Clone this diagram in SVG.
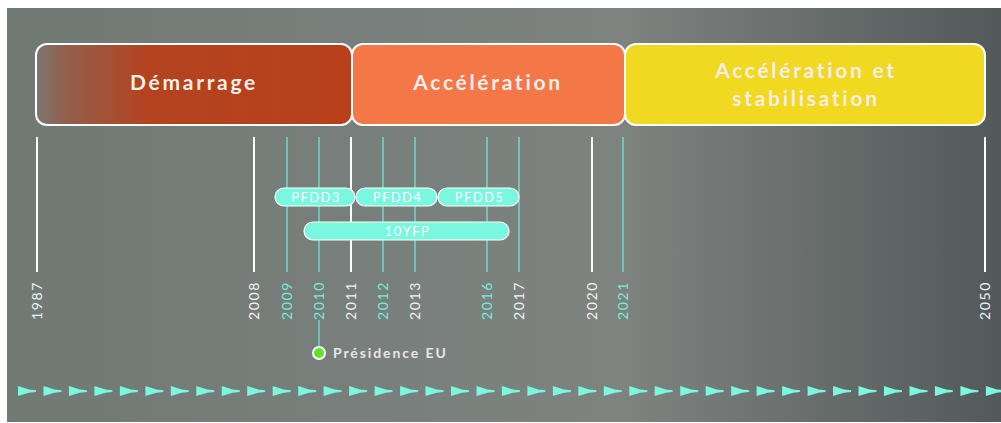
<svg xmlns="http://www.w3.org/2000/svg" width="1001" height="423" viewBox="0 0 1001 423">
  <style>
    .phase-title { font-family: Lato, "Open Sans", sans-serif; font-size: 21px; font-weight: bold; fill: #f6eee9; letter-spacing: 2.7px; text-anchor: middle; }
    .phase-box { stroke: #ffffff; stroke-width: 2; }
    .tick-w { stroke: #ffffff; stroke-width: 2; }
    .tick-t { stroke: #6fe8cf; stroke-width: 1.3; }
    .year { font-family: Lato, "Open Sans", sans-serif; font-size: 14px; letter-spacing: 1.6px; text-anchor: end; }
    .year-w { fill: #f2f2f2; }
    .year-t { fill: #6ff0d6; }
    .pill { fill: #7af7df; stroke: #ffffff; stroke-width: 1.2; }
    .pill-label { font-family: Lato, "Open Sans", sans-serif; font-size: 13px; fill: #ffffff; letter-spacing: 1.4px; text-anchor: middle; }
    .arrow { fill: #7af7df; }
  </style>
  <defs>
    <linearGradient id="bg" x1="0" y1="0" x2="1" y2="0">
      <stop offset="0" stop-color="#717975"/>
      <stop offset="0.62" stop-color="#7e8380"/>
      <stop offset="1" stop-color="#535959"/>
    </linearGradient>
    <linearGradient id="demarrage" x1="36" y1="0" x2="352" y2="0" gradientUnits="userSpaceOnUse">
      <stop offset="0" stop-color="#7b7672"/>
      <stop offset="0.1" stop-color="#935f4b"/>
      <stop offset="0.35" stop-color="#b3431f"/>
      <stop offset="1" stop-color="#b8401b"/>
    </linearGradient>
    <polygon id="pennant" points="0,-5 11,-1.6 18,-0.8 18,0.9 11,1.8 0,5"/>
  </defs>

  <rect x="0" y="0" width="1001" height="423" fill="#ffffff"/>
  <rect x="7" y="8" width="994" height="414" fill="url(#bg)"/>

  <!-- phases -->
  <g id="phase-demarrage">
    <rect class="phase-box" x="36" y="44" width="316" height="81" rx="11" fill="url(#demarrage)"/>
    <text class="phase-title" x="194" y="90">Démarrage</text>
  </g>
  <g id="phase-acceleration">
    <rect class="phase-box" x="352" y="44" width="273" height="81" rx="11" fill="#f47747"/>
    <text class="phase-title" x="488" y="90">Accélération</text>
  </g>
  <g id="phase-stabilisation">
    <rect class="phase-box" x="625" y="44" width="360" height="81" rx="11" fill="#f1d821"/>
    <text class="phase-title" x="806" y="78">Accélération et</text>
    <text class="phase-title" x="806" y="106">stabilisation</text>
  </g>

  <!-- year ticks -->
  <g id="ticks">
    <line class="tick-w" x1="37" y1="137" x2="37" y2="272"/>
    <line class="tick-w" x1="254" y1="137" x2="254" y2="272"/>
    <line class="tick-t" x1="287" y1="137" x2="287" y2="272"/>
    <line class="tick-t" x1="319" y1="137" x2="319" y2="272"/>
    <line class="tick-w" x1="351" y1="137" x2="351" y2="272"/>
    <line class="tick-t" x1="383" y1="137" x2="383" y2="272"/>
    <line class="tick-t" x1="415" y1="137" x2="415" y2="272"/>
    <line class="tick-t" x1="487" y1="137" x2="487" y2="272"/>
    <line class="tick-t" x1="519" y1="137" x2="519" y2="272"/>
    <line class="tick-w" x1="592" y1="137" x2="592" y2="272"/>
    <line class="tick-t" x1="623" y1="137" x2="623" y2="272"/>
    <line class="tick-w" x1="985" y1="137" x2="985" y2="272"/>
  </g>

  <!-- year labels -->
  <g id="years">
    <text class="year year-w" transform="translate(42,281) rotate(-90)">1987</text>
    <text class="year year-w" transform="translate(259,281) rotate(-90)">2008</text>
    <text class="year year-t" transform="translate(292,281) rotate(-90)">2009</text>
    <text class="year year-t" transform="translate(324,281) rotate(-90)">2010</text>
    <text class="year year-w" transform="translate(356,281) rotate(-90)">2011</text>
    <text class="year year-t" transform="translate(388,281) rotate(-90)">2012</text>
    <text class="year year-w" transform="translate(420,281) rotate(-90)">2013</text>
    <text class="year year-t" transform="translate(492,281) rotate(-90)">2016</text>
    <text class="year year-w" transform="translate(524,281) rotate(-90)">2017</text>
    <text class="year year-w" transform="translate(597,281) rotate(-90)">2020</text>
    <text class="year year-t" transform="translate(628,281) rotate(-90)">2021</text>
    <text class="year year-w" transform="translate(990,281) rotate(-90)">2050</text>
  </g>

  <!-- programmes -->
  <g id="pfdd3">
    <rect class="pill" x="275" y="188" width="80" height="18" rx="9"/>
    <text class="pill-label" x="316" y="202">PFDD3</text>
  </g>
  <g id="pfdd4">
    <rect class="pill" x="356" y="188" width="81" height="18" rx="9"/>
    <text class="pill-label" x="397.5" y="202">PFDD4</text>
  </g>
  <g id="pfdd5">
    <rect class="pill" x="438" y="188" width="81" height="18" rx="9"/>
    <text class="pill-label" x="479.5" y="202">PFDD5</text>
  </g>
  <g id="yfp">
    <rect class="pill" x="304" y="222" width="205" height="18" rx="9"/>
    <text class="pill-label" x="407.5" y="236">10YFP</text>
  </g>

  <!-- EU presidency marker -->
  <g id="presidence">
    <line x1="319" y1="320" x2="319" y2="347" stroke="#6fe8cf" stroke-width="1.3"/>
    <circle cx="319" cy="353" r="6" fill="#5ee52a" stroke="#ffffff" stroke-width="2"/>
    <text x="333" y="358" font-family="Lato, 'Open Sans', sans-serif" font-size="14" font-weight="bold" fill="#e6e6e6" letter-spacing="1.9">Présidence EU</text>
  </g>

  <!-- direction arrows -->
  <g id="arrows">
    <use href="#pennant" class="arrow" transform="translate(18,391)"/>
    <use href="#pennant" class="arrow" transform="translate(43.5,391)"/>
    <use href="#pennant" class="arrow" transform="translate(68.9,391)"/>
    <use href="#pennant" class="arrow" transform="translate(94.4,391)"/>
    <use href="#pennant" class="arrow" transform="translate(119.9,391)"/>
    <use href="#pennant" class="arrow" transform="translate(145.4,391)"/>
    <use href="#pennant" class="arrow" transform="translate(170.8,391)"/>
    <use href="#pennant" class="arrow" transform="translate(196.3,391)"/>
    <use href="#pennant" class="arrow" transform="translate(221.8,391)"/>
    <use href="#pennant" class="arrow" transform="translate(247.2,391)"/>
    <use href="#pennant" class="arrow" transform="translate(272.7,391)"/>
    <use href="#pennant" class="arrow" transform="translate(298.2,391)"/>
    <use href="#pennant" class="arrow" transform="translate(323.6,391)"/>
    <use href="#pennant" class="arrow" transform="translate(349.1,391)"/>
    <use href="#pennant" class="arrow" transform="translate(374.6,391)"/>
    <use href="#pennant" class="arrow" transform="translate(400.1,391)"/>
    <use href="#pennant" class="arrow" transform="translate(425.5,391)"/>
    <use href="#pennant" class="arrow" transform="translate(451,391)"/>
    <use href="#pennant" class="arrow" transform="translate(476.5,391)"/>
    <use href="#pennant" class="arrow" transform="translate(501.9,391)"/>
    <use href="#pennant" class="arrow" transform="translate(527.4,391)"/>
    <use href="#pennant" class="arrow" transform="translate(552.9,391)"/>
    <use href="#pennant" class="arrow" transform="translate(578.3,391)"/>
    <use href="#pennant" class="arrow" transform="translate(603.8,391)"/>
    <use href="#pennant" class="arrow" transform="translate(629.3,391)"/>
    <use href="#pennant" class="arrow" transform="translate(654.7,391)"/>
    <use href="#pennant" class="arrow" transform="translate(680.2,391)"/>
    <use href="#pennant" class="arrow" transform="translate(705.7,391)"/>
    <use href="#pennant" class="arrow" transform="translate(731.2,391)"/>
    <use href="#pennant" class="arrow" transform="translate(756.6,391)"/>
    <use href="#pennant" class="arrow" transform="translate(782.1,391)"/>
    <use href="#pennant" class="arrow" transform="translate(807.6,391)"/>
    <use href="#pennant" class="arrow" transform="translate(833,391)"/>
    <use href="#pennant" class="arrow" transform="translate(858.5,391)"/>
    <use href="#pennant" class="arrow" transform="translate(884,391)"/>
    <use href="#pennant" class="arrow" transform="translate(909.5,391)"/>
    <use href="#pennant" class="arrow" transform="translate(934.9,391)"/>
    <use href="#pennant" class="arrow" transform="translate(960.4,391)"/>
    <use href="#pennant" class="arrow" transform="translate(985.9,391)"/>
  </g>
</svg>
